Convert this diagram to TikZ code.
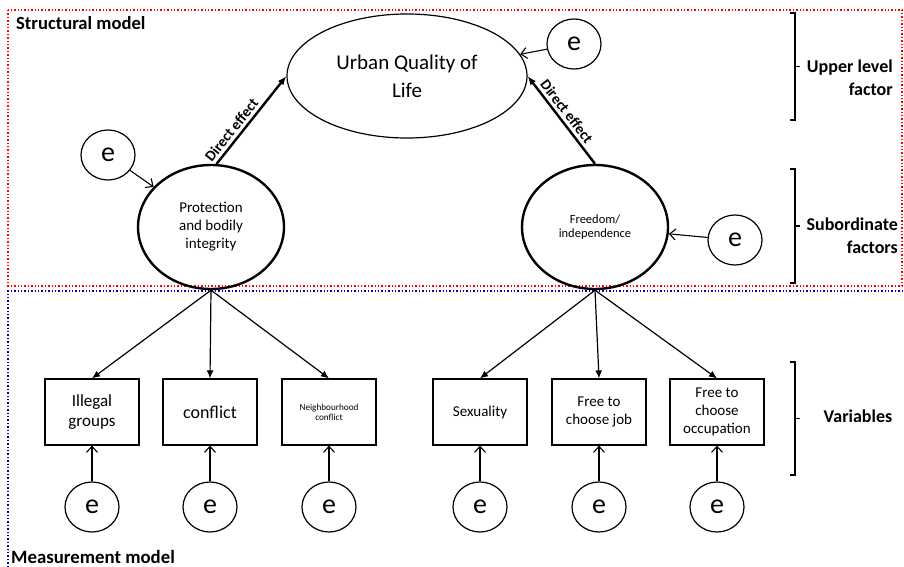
\documentclass[tikz,border=0pt]{standalone}
\usepackage{fontspec}
\setmainfont{Carlito}
\usetikzlibrary{arrows.meta,positioning,shapes.geometric}

\newcommand{\fsz}[2]{\fontsize{#1}{#2}\selectfont}

\begin{document}
\begin{tikzpicture}[x=1pt, y=-1pt, every node/.style={inner sep=0pt, align=center},
  factor/.style={ellipse, draw, line width=2.4pt, minimum width=146pt, minimum height=124pt},
  errc/.style={ellipse, draw, line width=1.2pt, minimum width=54pt, minimum height=50pt, font=\fontsize{28}{30}\selectfont},
  varbox/.style={rectangle, draw, line width=1.2pt, minimum width=94pt, minimum height=66pt},
  load/.style={-{Latex[length=8pt,width=7pt]}, line width=1.2pt},
  errarr/.style={-{Straight Barb[length=6pt,width=11pt]}, line width=1.1pt},
  direct/.style={-{Latex[length=9pt,width=7pt]}, line width=2.4pt},
  sidelab/.style={font=\bfseries\fontsize{18}{23}\selectfont, align=right}]
  \useasboundingbox (0,0) rectangle (904,567);

  % model frames
  \draw[red, dotted, line width=1.4pt] (8,10) rectangle (902,286);
  \draw[blue!70!black, dotted, line width=1.4pt] (903,291) -- (8,291) -- (8,567);
  \node[anchor=base west, font=\bfseries\fontsize{18.6}{20}\selectfont] (smod) at (16,30) {Structural model};
  \node[anchor=base west, font=\bfseries\fontsize{18.8}{21}\selectfont] (mmod) at (11,563) {Measurement model};

  % latent factors
  \node[ellipse, draw, line width=1.2pt, minimum width=240pt, minimum height=124pt,
        font=\fontsize{21}{28}\selectfont] (uql) at (407,76) {Urban Quality of\\Life};
  \node[factor, font=\fontsize{15}{18}\selectfont] (prot) at (211,227) {Protection\\and bodily\\integrity};
  \node[factor, font=\fontsize{12.5}{14}\selectfont] (free) at (595,227) {Freedom/\\independence};

  \node[errc] (eU) at (574,44) {e};
  \node[errc] (eP) at (108,155) {e};
  \node[errc] (eF) at (735,240) {e};

  \draw[direct] (prot.85) -- (uql.west)
    node[pos=0.32, sloped, above=3pt, font=\bfseries\fontsize{15}{16}\selectfont] {Direct effect};
  \draw[direct] (free.north) -- (uql.east)
    node[pos=0.53, sloped, above=3pt, font=\bfseries\fontsize{15}{16}\selectfont] {Direct effect};
  \draw[errarr] (eU) -- (uql);
  \draw[errarr] (eP) -- (prot);
  \draw[errarr] (eF) -- (free);

  % observed variables
  \foreach \i/\x/\f/\lab in {1/92/{\fsz{17}{20}}/{Illegal\\groups}, 2/210/{\fsz{18}{21}}/{conflict},
      3/329/{\fsz{9.2}{10}}/{Neighbourhood\\conflict}, 4/480/{\fsz{15}{18}}/{Sexuality},
      5/599/{\fsz{15}{18}}/{Free to\\choose job}, 6/717/{\fsz{15}{18}}/{Free to\\choose\\occupation}} {
    \node[varbox, font=\f] (v\i) at (\x,412) {\lab};
    \node[errc] (e\i) at (\x,507) {e};
    \draw[errarr] (e\i) -- (v\i);
  }
  \foreach \i in {1,2,3} \draw[load] (prot.south) -- (v\i.north);
  \foreach \i in {4,5,6} \draw[load] (free.south) -- (v\i.north);

  % level brackets
  \foreach \ya/\yb in {13/120, 169/283, 362/475} {
    \draw[line width=1.2pt] (790,\ya) -- (795,\ya) -- (795,\yb) -- (790,\yb);
    \draw[line width=1.2pt] (795,{(\ya+\yb)/2}) -- (800,{(\ya+\yb)/2});
  }
  \node[sidelab, anchor=east] (upl) at (893,78) {Upper level\\factor};
  \node[sidelab, anchor=east] (subl) at (898,236) {Subordinate\\factors};
  \node[sidelab] (varl) at (858,416) {Variables};
\end{tikzpicture}
\end{document}
